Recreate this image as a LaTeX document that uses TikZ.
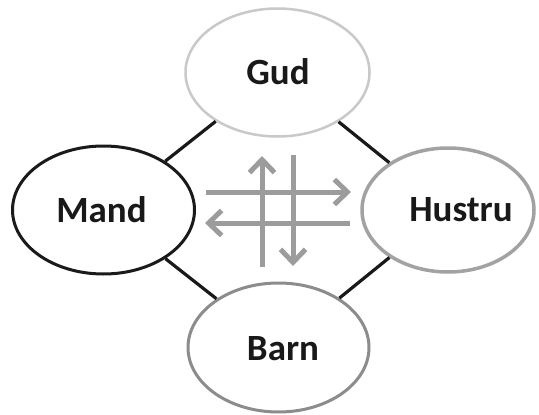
\documentclass[tikz,border=0pt]{standalone}
\usepackage{fontspec}
\setmainfont{Carlito}
\usetikzlibrary{shapes.geometric,arrows.meta}
\definecolor{gudc}{HTML}{C9C9C9}
\definecolor{husc}{HTML}{A2A2A2}
\definecolor{barc}{HTML}{8C8C8C}
\definecolor{mandc}{HTML}{1A1A1A}
\definecolor{arrc}{HTML}{9C9C9C}
\tikzset{
  oval/.style={ellipse, inner sep=0pt, line width=3pt, fill=white},
  lbl/.style={font=\bfseries\fontsize{37}{40}\selectfont, text=black!90, inner sep=0pt},
  link/.style={line width=3.2pt, draw=black!90},
  flow/.style={line width=5pt, draw=arrc, -{Straight Barb[length=13pt,width=25pt,line width=5pt]}}
}
\begin{document}
\begin{tikzpicture}[x=1pt,y=-1pt]
\useasboundingbox (0,0) rectangle (539,415);
\fill[white] (0,0) rectangle (539,415);
% ellipses
\node[oval, draw=gudc, line width=2.5pt, minimum width=184pt, minimum height=128pt] (gud) at (277.5,72.5) {};
\node[oval, draw=mandc, minimum width=182pt, minimum height=128pt] (mand) at (103.5,210) {};
\node[oval, draw=husc, line width=3.5pt, minimum width=172pt, minimum height=124pt] (hustru) at (448,210) {};
\node[oval, draw=barc, minimum width=181pt, minimum height=129pt] (barn) at (278.5,347.5) {};
% labels
\node[lbl] (gudt) at (278,72) {Gud};
\node[lbl] (mandt) at (101.5,210) {Mand};
\node[lbl] (hustrut) at (461,210) {Hustru};
\node[lbl] (barnt) at (283,349) {Barn};
% connectors
\draw[link] (gud) -- (mand);
\draw[link] (gud) -- (hustru);
\draw[link] (mand) -- (barn);
\draw[link] (hustru) -- (barn);
% arrows
\coordinate (a1s) at (206,192); \coordinate (a1e) at (351,192);
\coordinate (a2s) at (350,223); \coordinate (a2e) at (205,223);
\coordinate (a3s) at (262,267); \coordinate (a3e) at (262,156);
\coordinate (a4s) at (293,155); \coordinate (a4e) at (293,266);
\draw[flow] (a1s) -- (a1e);
\draw[flow] (a2s) -- (a2e);
\draw[flow] (a3s) -- (a3e);
\draw[flow] (a4s) -- (a4e);
\end{tikzpicture}
\end{document}
